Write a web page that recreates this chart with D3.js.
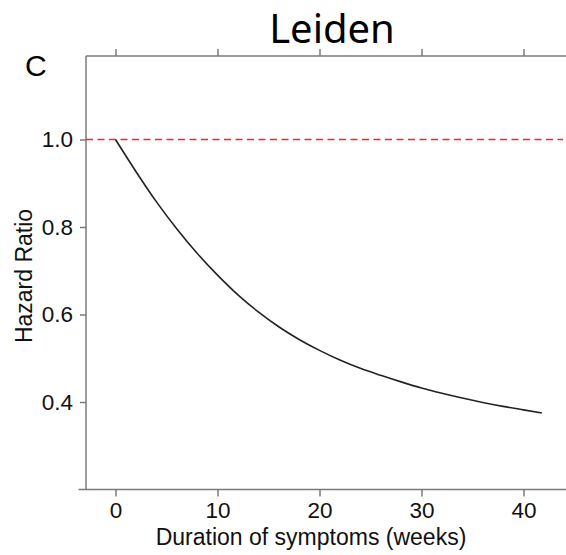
<!DOCTYPE html>
<html>
<head>
<meta charset="utf-8">
<script src="https://cdn.jsdelivr.net/npm/d3@7"></script>
<style>
  html, body { margin: 0; padding: 0; background: #fff; }
  svg { display: block; }
</style>
</head>
<body>
<svg id="chart" width="566" height="555"></svg>
<script>
// ---- data ----
const weeks = [0, 2, 4, 6, 8, 10, 12, 14, 16, 18, 20, 22, 24, 26, 28, 30, 32, 34, 36, 38, 40, 41.8];
const hazardRatio = [1.000, 0.927, 0.858, 0.796, 0.740, 0.690, 0.645, 0.606, 0.572, 0.543, 0.518,
                     0.496, 0.477, 0.461, 0.446, 0.432, 0.420, 0.409, 0.399, 0.390, 0.382, 0.375];
const referenceValue = 1.0;
const xTicks = [0, 10, 20, 30, 40];
const yTicks = [0.4, 0.6, 0.8, 1.0];
const titleText = "Leiden";
const panelLetter = "C";
const xLabel = "Duration of symptoms (weeks)";
const yLabel = "Hazard Ratio";

// ---- layout ----
(function () {
const svg = d3.select("#chart");
const pLeft = 86, pRight = 566, pTop = 56, pBottom = 489.5;

const x = d3.scaleLinear().domain([0, 40]).range([115.5, 523.5]);
const y = d3.scaleLinear().domain([0.4, 1.0]).range([402, 139.5]);

const axisColor = "#7a7a7a";
const font = "'Liberation Sans', Arial, Helvetica, sans-serif";
const textColor = "#111";

// bottom axis
const gx = svg.append("g").attr("transform", `translate(0,${pBottom})`)
  .call(d3.axisBottom(x).tickValues(xTicks).tickSize(7).tickPadding(6).tickFormat(d3.format("d")));
gx.select(".domain").remove();
gx.append("line").attr("x1", pLeft - 7.5).attr("x2", pRight).attr("y1", 0).attr("y2", 0)
  .attr("stroke", axisColor).attr("stroke-width", 1.5);
gx.selectAll(".tick line").attr("stroke", axisColor).attr("stroke-width", 1.5);
gx.selectAll(".tick text").attr("font-family", font).attr("font-size", 22.5).attr("fill", textColor);

// top axis (ticks only)
const gt = svg.append("g").attr("transform", `translate(0,${pTop})`)
  .call(d3.axisTop(x).tickValues(xTicks).tickSize(7).tickFormat(""));
gt.select(".domain").remove();
gt.append("line").attr("x1", pLeft).attr("x2", pRight).attr("y1", 0).attr("y2", 0)
  .attr("stroke", axisColor).attr("stroke-width", 1.5);
gt.selectAll(".tick line").attr("stroke", axisColor).attr("stroke-width", 1.5);

// left axis
const gy = svg.append("g").attr("transform", `translate(${pLeft},0)`)
  .call(d3.axisLeft(y).tickValues(yTicks).tickSize(6).tickPadding(7).tickFormat(d3.format(".1f")));
gy.select(".domain").remove();
gy.append("line").attr("x1", 0).attr("x2", 0).attr("y1", pTop).attr("y2", pBottom)
  .attr("stroke", axisColor).attr("stroke-width", 1.5);
gy.selectAll(".tick line").attr("stroke", axisColor).attr("stroke-width", 1.5);
gy.selectAll(".tick text").attr("font-family", font).attr("font-size", 22.5).attr("fill", textColor);

// reference line
svg.append("line")
  .attr("x1", pLeft).attr("x2", 563)
  .attr("y1", y(referenceValue)).attr("y2", y(referenceValue))
  .attr("stroke", "#f22").attr("stroke-width", 1.5).attr("stroke-dasharray", "7,4.5");

// curve
const data = weeks.map((w, i) => ({ w, v: hazardRatio[i] }));
svg.append("path").datum(data)
  .attr("fill", "none").attr("stroke", "#222").attr("stroke-width", 1.6)
  .attr("d", d3.line().x(d => x(d.w)).y(d => y(d.v)).curve(d3.curveMonotoneX));

// texts
svg.append("text").attr("x", 332).attr("y", 43).attr("text-anchor", "middle")
  .attr("font-family", "'Noto Sans', 'Open Sans', sans-serif").attr("font-size", 40).attr("fill", "#000")
  .text(titleText);
svg.append("text").attr("x", 25).attr("y", 76)
  .attr("font-family", font).attr("font-size", 30).attr("fill", "#000").text(panelLetter);
svg.append("text").attr("x", 311).attr("y", 545).attr("text-anchor", "middle")
  .attr("font-family", font).attr("font-size", 23).attr("fill", textColor).text(xLabel);
svg.append("text").attr("transform", "translate(32,276) rotate(-90)").attr("text-anchor", "middle")
  .attr("font-family", font).attr("font-size", 23).attr("fill", textColor).text(yLabel);
})();
</script>
</body>
</html>
